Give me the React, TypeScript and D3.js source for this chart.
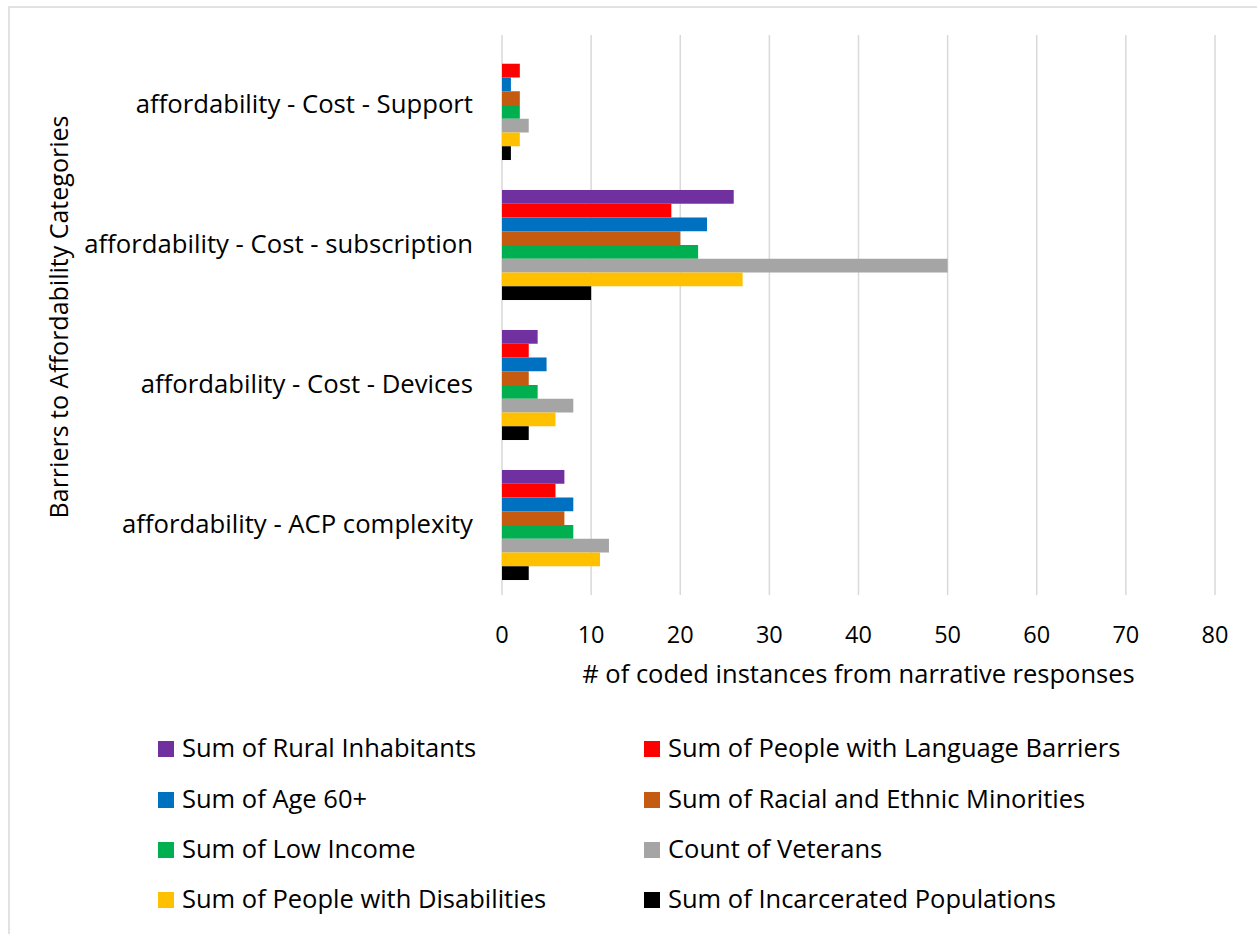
import * as d3 from 'd3'

const categories = [
  'affordability - Cost - Support',
  'affordability - Cost - subscription',
  'affordability - Cost - Devices',
  'affordability - ACP complexity',
]

const seriesNames = [
  'Sum of Rural Inhabitants',
  'Sum of People with Language Barriers',
  'Sum of Age 60+',
  'Sum of Racial and Ethnic Minorities',
  'Sum of Low Income',
  'Count of Veterans',
  'Sum of People with Disabilities',
  'Sum of Incarcerated Populations',
]

const seriesColors = [
  '#7030A0',
  '#FF0000',
  '#0070C0',
  '#C55A11',
  '#00B050',
  '#A5A5A5',
  '#FFC000',
  '#000000',
]

// values per series, in category order (top to bottom)
const rural = [0, 26, 4, 7]
const language = [2, 19, 3, 6]
const age60 = [1, 23, 5, 8]
const minorities = [2, 20, 3, 7]
const lowIncome = [2, 22, 4, 8]
const veterans = [3, 50, 8, 12]
const disabilities = [2, 27, 6, 11]
const incarcerated = [1, 10, 3, 3]

const seriesValues = [
  rural,
  language,
  age60,
  minorities,
  lowIncome,
  veterans,
  disabilities,
  incarcerated,
]

const xTicks = [0, 10, 20, 30, 40, 50, 60, 70, 80]

const FONT = '"Open Sans", sans-serif'

export default function App() {
  const width = 1257
  const height = 934
  const plot = { left: 502, right: 1215, top: 35, bottom: 595 }

  const x = d3.scaleLinear().domain([0, 80]).range([plot.left, plot.right])
  const y = d3
    .scaleBand<string>()
    .domain(categories)
    .range([plot.top, plot.bottom])
    .paddingInner(0.214)
    .paddingOuter(0.107)
  const inner = d3
    .scaleBand<number>()
    .domain(d3.range(seriesNames.length))
    .range([0, y.bandwidth()])

  const legendCols = [158, 644]
  const legendRows = [749, 800, 850, 900]

  return (
    <svg
      width={width}
      height={height}
      style={{ position: 'absolute', left: 0, top: 0, display: 'block', background: '#fff' }}
      fontFamily={FONT}
    >
      <rect x={9} y={7} width={width} height={height} fill="#fff" stroke="#d9d9d9" strokeWidth={1.5} />

      {xTicks.map((t) => (
        <line key={t} x1={x(t)} x2={x(t)} y1={plot.top} y2={plot.bottom} stroke="#d9d9d9" strokeWidth={1.5} />
      ))}

      {categories.map((c, ci) =>
        seriesValues.map((vals, si) => (
          <rect
            key={c + si}
            x={x(0)}
            y={(y(c) ?? 0) + (inner(si) ?? 0)}
            width={x(vals[ci]) - x(0)}
            height={inner.bandwidth()}
            fill={seriesColors[si]}
          />
        ))
      )}

      <g fontSize={23.5} fill="#000" textAnchor="middle">
        {xTicks.map((t) => (
          <text key={t} x={x(t)} y={643}>
            {t}
          </text>
        ))}
      </g>
      <text x={(plot.left + plot.right) / 2} y={683} fontSize={25.5} textAnchor="middle">
        # of coded instances from narrative responses
      </text>

      <g fontSize={25.7} textAnchor="end">
        {categories.map((c) => (
          <text key={c} x={473} y={(y(c) ?? 0) + y.bandwidth() / 2 + 8}>
            {c}
          </text>
        ))}
      </g>

      <text
        transform={`translate(68,${(plot.top + plot.bottom) / 2 + 2}) rotate(-90)`}
        fontSize={25}
        textAnchor="middle"
      >
        Barriers to Affordability Categories
      </text>

      <g fontSize={25.5}>
        {seriesNames.map((name, i) => {
          const cx = legendCols[i % 2]
          const cy = legendRows[Math.floor(i / 2)]
          return (
            <g key={name}>
              <rect x={cx} y={cy - 8} width={16} height={16} fill={seriesColors[i]} />
              <text x={cx + 24} y={cy + 8}>
                {name}
              </text>
            </g>
          )
        })}
      </g>
    </svg>
  )
}
